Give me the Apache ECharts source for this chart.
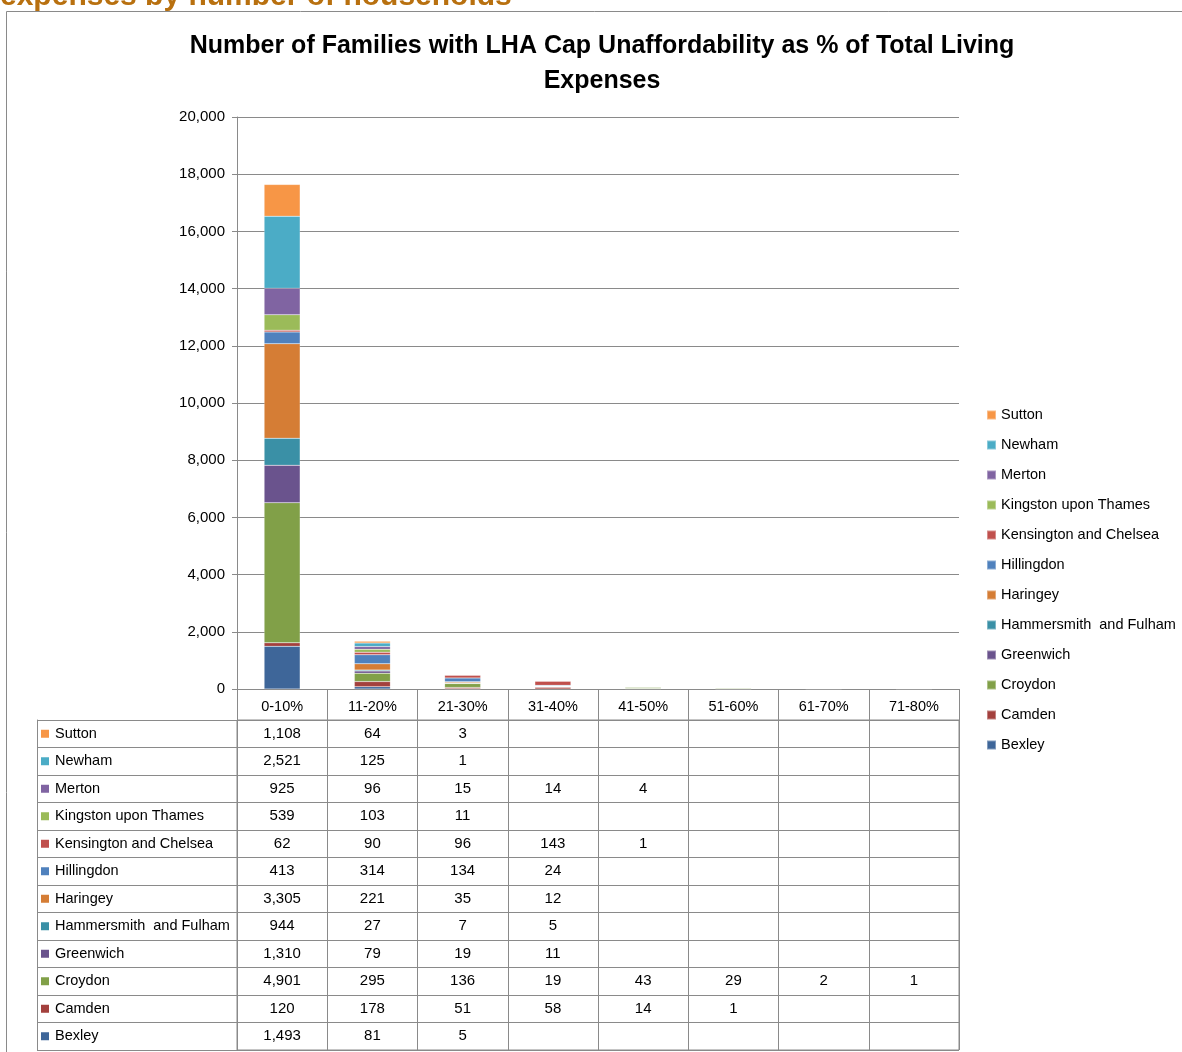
<!DOCTYPE html>
<html>
<head>
<meta charset="utf-8">
<script src="https://cdn.jsdelivr.net/npm/echarts@6/dist/echarts.min.js"></script>
<style>
html,body{margin:0;padding:0;background:#fff;}
#c{width:1182px;height:1052px;}
</style>
</head>
<body>
<div id="c"></div>
<script>
// ---- data ----
const categories = ['0-10%','11-20%','21-30%','31-40%','41-50%','51-60%','61-70%','71-80%'];
const boroughs = ['Bexley','Camden','Croydon','Greenwich','Hammersmith  and Fulham','Haringey','Hillingdon','Kensington and Chelsea','Kingston upon Thames','Merton','Newham','Sutton'];
const bexley      = [1493, 81, 5, null, null, null, null, null];
const camden      = [120, 178, 51, 58, 14, 1, null, null];
const croydon     = [4901, 295, 136, 19, 43, 29, 2, 1];
const greenwich   = [1310, 79, 19, 11, null, null, null, null];
const hammersmith = [944, 27, 7, 5, null, null, null, null];
const haringey    = [3305, 221, 35, 12, null, null, null, null];
const hillingdon  = [413, 314, 134, 24, null, null, null, null];
const kensington  = [62, 90, 96, 143, 1, null, null, null];
const kingston    = [539, 103, 11, null, null, null, null, null];
const merton      = [925, 96, 15, 14, 4, null, null, null];
const newham      = [2521, 125, 1, null, null, null, null, null];
const sutton      = [1108, 64, 3, null, null, null, null, null];
const seriesValues = [bexley, camden, croydon, greenwich, hammersmith, haringey, hillingdon, kensington, kingston, merton, newham, sutton];
const yTicks = [0, 2000, 4000, 6000, 8000, 10000, 12000, 14000, 16000, 18000, 20000];

// ---- styles ----
const colors = ['#3E6699','#A3403D','#81A048','#6A538D','#3A90A6','#D57D35','#4F81BD','#C0504D','#9BBB59','#8064A2','#4BACC6','#F79646'];
const FONT = 'Liberation Sans, Arial, sans-serif';
const LINE = '#8a8a8a';
const fmt = v => (v == null ? '' : Number(v).toLocaleString('en-US'));

const chart = echarts.init(document.getElementById('c'));

const rich = { t: { fontFamily: FONT, fontSize: 14.5, color: '#000', padding: [0, 0, 0, 6] } };
boroughs.forEach((b, i) => {
  rich['s' + i] = { width: 8, height: 8, backgroundColor: colors[i] };
});

const barSeries = boroughs.map((b, i) => ({
  name: b,
  type: 'bar',
  stack: 'total',
  xAxisIndex: 0,
  yAxisIndex: 0,
  barWidth: 36,
  itemStyle: { color: colors[i], borderColor: 'rgba(255,255,255,0.35)', borderWidth: 0.5 },
  emphasis: { disabled: true },
  data: seriesValues[i]
}));

const cellData = [];
boroughs.forEach((b, i) => {
  seriesValues[i].forEach((v, j) => {
    if (v != null) cellData.push([categories[j], b, v]);
  });
});

const option = {
  animation: false,
  backgroundColor: '#fff',
  textStyle: { fontFamily: FONT },
  title: {
    text: 'Number of Families with LHA Cap Unaffordability as % of Total Living\nExpenses',
    left: 602,
    top: 29,
    textAlign: 'center',
    padding: 0,
    textStyle: { fontFamily: FONT, fontWeight: 'bold', fontSize: 25, lineHeight: 35, color: '#000' }
  },
  legend: {
    orient: 'vertical',
    left: 986,
    top: 407,
    padding: 0,
    itemWidth: 9,
    itemHeight: 9,
    itemGap: 14,
    icon: 'rect',
    selectedMode: false,
    data: boroughs.slice().reverse(),
    textStyle: { fontFamily: FONT, fontSize: 14.5, color: '#000', lineHeight: 16 }
  },
  grid: [
    { left: 237, right: 223, top: 117, bottom: 363 },
    { left: 237, right: 223, top: 720, bottom: 2, show: true, borderColor: LINE, borderWidth: 1 }
  ],
  xAxis: [
    {
      type: 'category', gridIndex: 0, data: categories,
      axisLine: { lineStyle: { color: LINE, width: 1 } },
      axisTick: { show: true, interval: 0, length: 31, lineStyle: { color: LINE } },
      axisLabel: { interval: 0, margin: 10, fontSize: 14.5, color: '#000', fontFamily: FONT }
    },
    {
      type: 'category', gridIndex: 1, data: categories,
      axisLine: { show: false }, axisTick: { show: false }, axisLabel: { show: false },
      splitLine: { show: true, interval: 0, lineStyle: { color: LINE } }
    }
  ],
  yAxis: [
    {
      type: 'value', gridIndex: 0, min: yTicks[0], max: yTicks[yTicks.length - 1], interval: yTicks[1] - yTicks[0],
      axisLine: { show: true, lineStyle: { color: LINE } },
      axisTick: { show: true, length: 5, lineStyle: { color: LINE } },
      axisLabel: { fontSize: 15, color: '#000', fontFamily: FONT, margin: 12, formatter: v => fmt(v) },
      splitLine: { lineStyle: { color: LINE, width: 1 } }
    },
    {
      type: 'category', gridIndex: 1, data: boroughs,
      axisLine: { show: true, lineStyle: { color: LINE } },
      axisTick: { show: true, interval: 0, length: 200, lineStyle: { color: LINE } },
      splitLine: { show: true, interval: 0, lineStyle: { color: LINE } },
      axisLabel: {
        interval: 0, align: 'left', margin: 196,
        formatter: v => { const i = boroughs.indexOf(v); return '{s' + i + '|}{t|' + v + '}'; },
        rich: rich
      }
    },
    {
      type: 'category', gridIndex: 1, data: boroughs, position: 'left', offset: 200,
      axisLine: { show: true, lineStyle: { color: LINE } },
      axisTick: { show: false }, axisLabel: { show: false }, splitLine: { show: false }
    }
  ],
  series: barSeries.concat([
    {
      type: 'scatter',
      xAxisIndex: 1,
      yAxisIndex: 1,
      symbolSize: 1,
      silent: true,
      itemStyle: { color: 'transparent', opacity: 1 },
      label: {
        show: true, position: 'inside', color: '#000', fontSize: 15, fontFamily: FONT, opacity: 1,
        formatter: p => fmt(p.value[2])
      },
      data: cellData
    }
  ]),
  graphic: [
    {
      type: 'rect', z: -10, silent: true,
      shape: { x: 6.5, y: 11.5, width: 1200, height: 1100 },
      style: { fill: 'none', stroke: LINE, lineWidth: 1 }
    },
    {
      type: 'text', silent: true, left: 0, top: -18,
      style: { text: 'expenses by number of households', font: 'bold 30px Liberation Sans, Arial, sans-serif', fill: '#B8700F' }
    }
  ]
};
chart.setOption(option);
</script>
</body>
</html>
